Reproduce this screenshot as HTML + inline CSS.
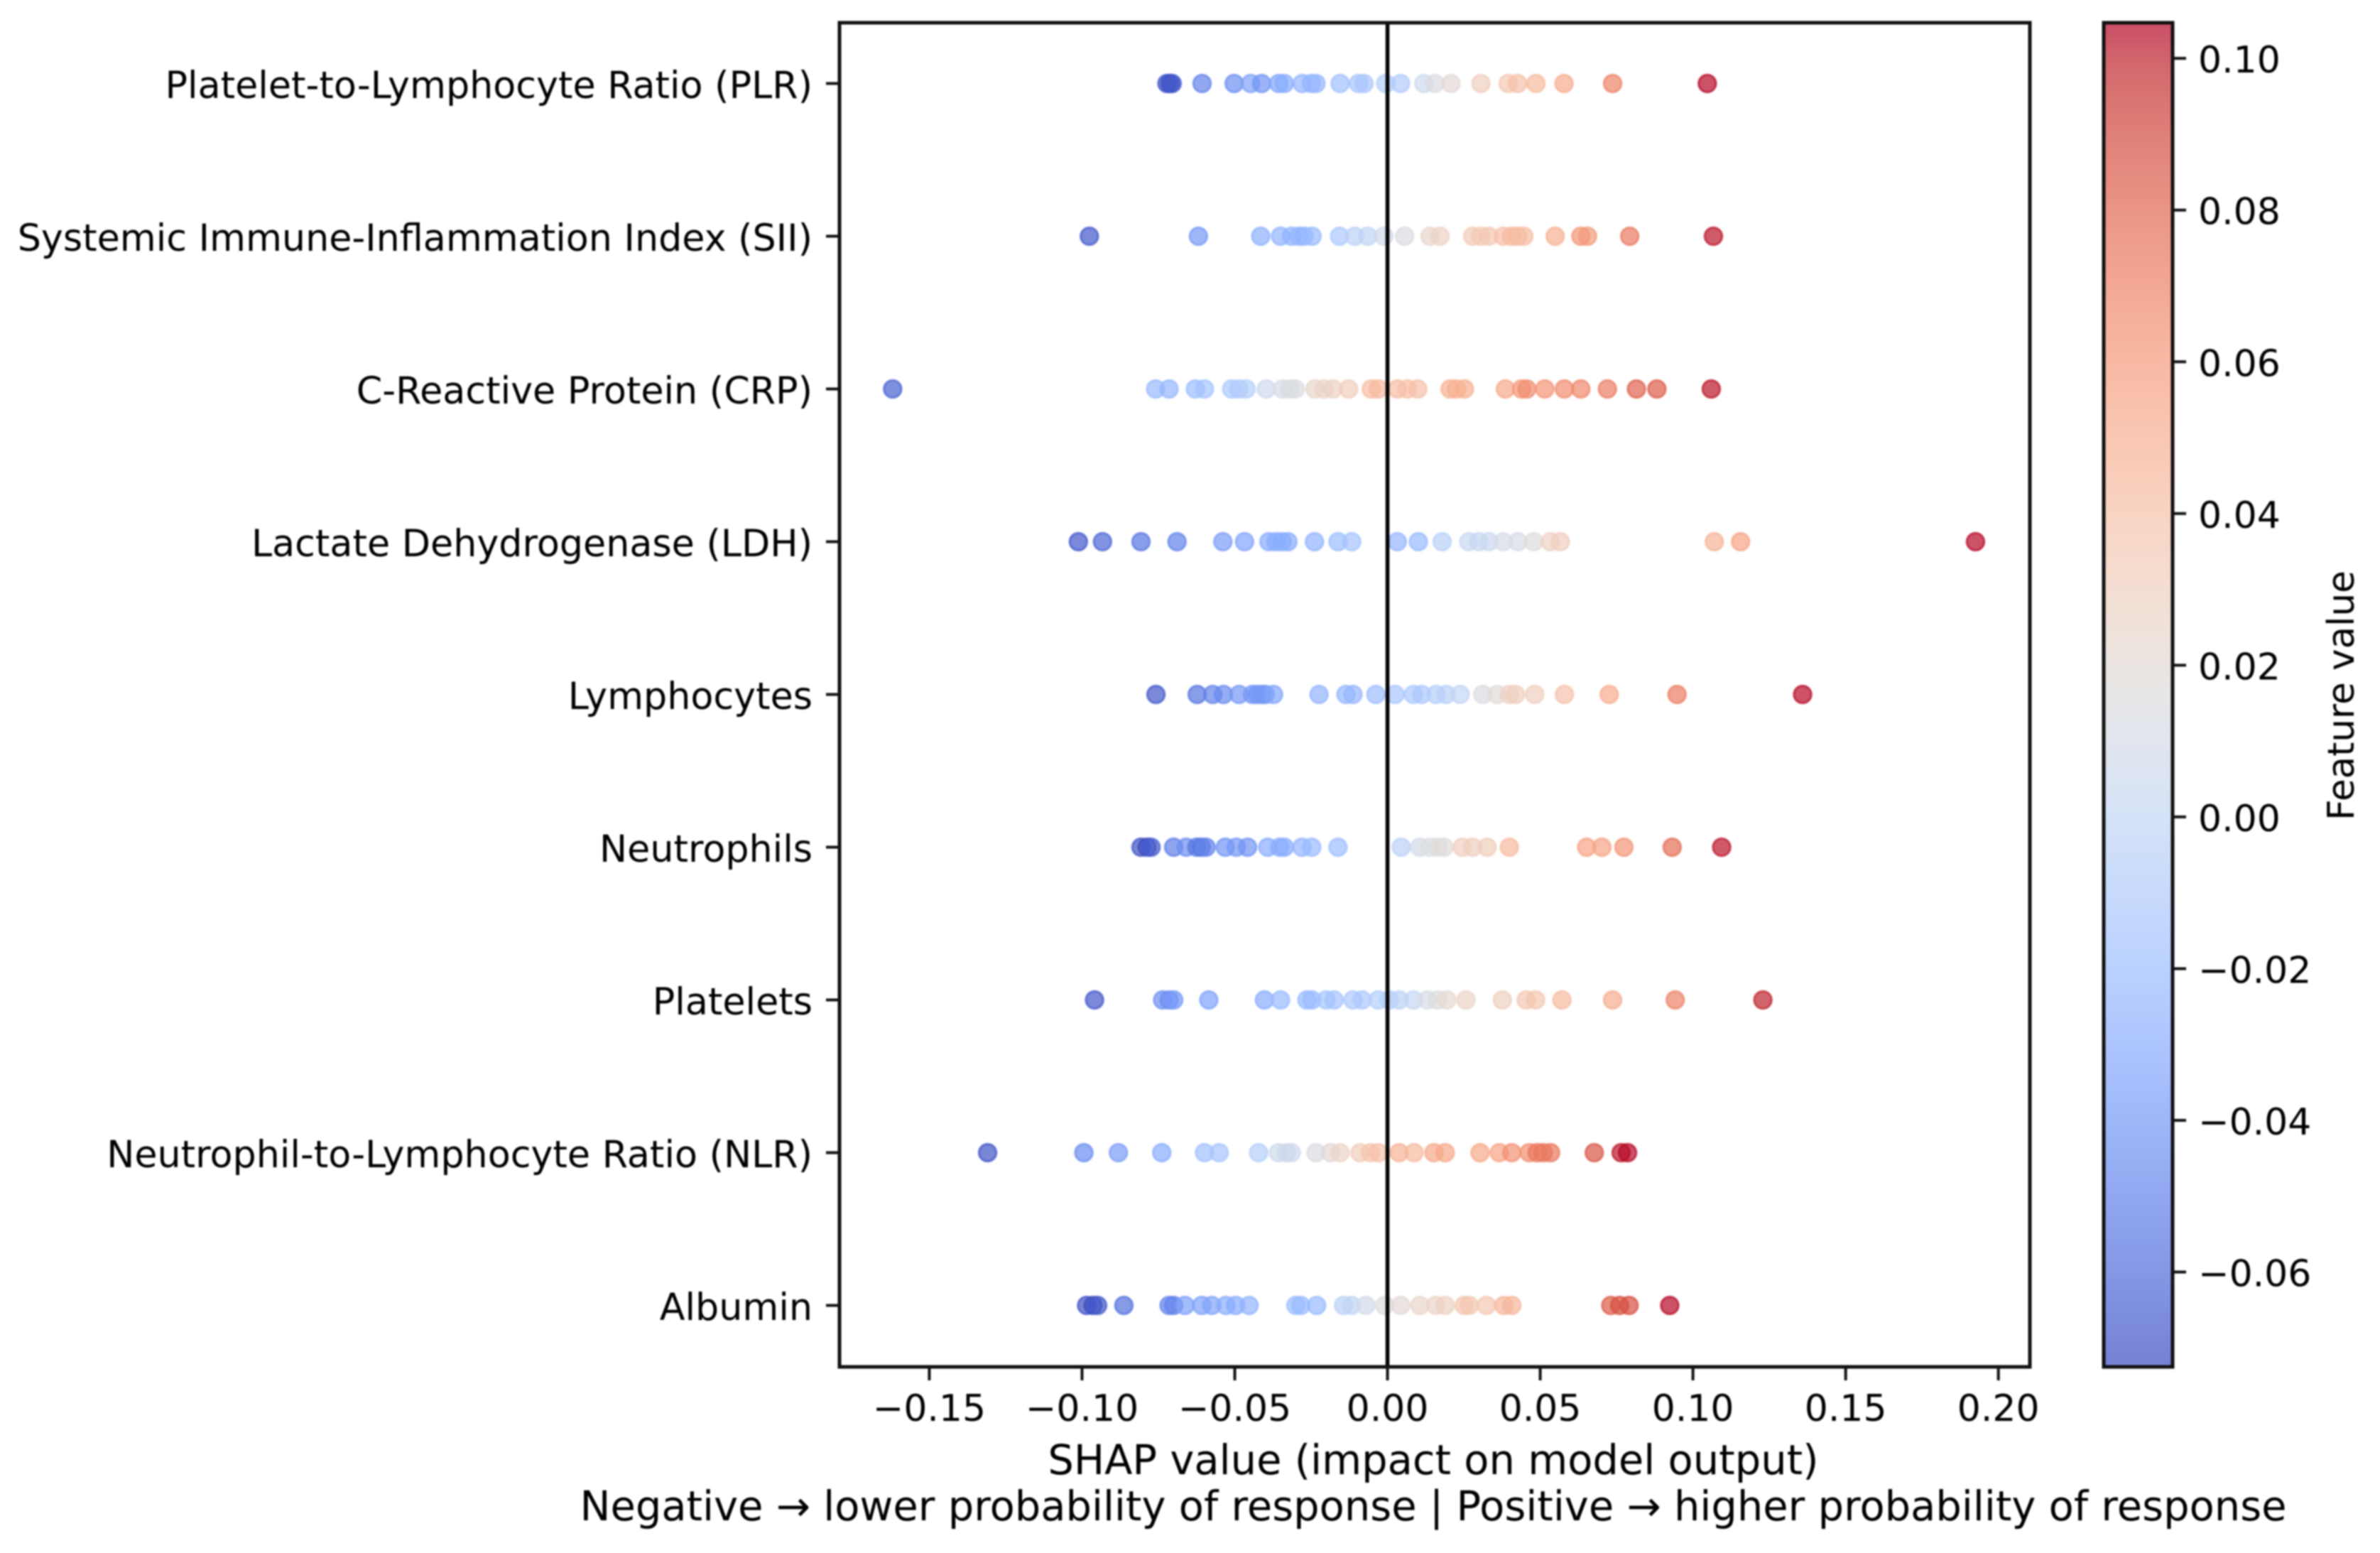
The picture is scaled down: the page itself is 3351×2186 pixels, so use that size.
<!DOCTYPE html>
<html lang="en">
<head>
<meta charset="utf-8">
<title>SHAP summary plot</title>
<style>
html,body{margin:0;padding:0;background:#fff;width:3351px;height:2186px;overflow:hidden}
svg{display:block;filter:blur(1px)}
text{font-family:"DejaVu Sans","Liberation Sans",sans-serif;fill:#000}
</style>
</head>
<body>
<svg id="chart" xmlns="http://www.w3.org/2000/svg" width="3351" height="2186" viewBox="0 0 3351 2186">
  <defs>
    <linearGradient id="cbar-gradient" x1="0" y1="1" x2="0" y2="0"></linearGradient>
  </defs>
  <rect x="0" y="0" width="3351" height="2186" fill="#fff"/>
  <g id="y-ticks"></g>
  <g id="x-ticks"></g>
  <g id="points"></g>
  <g id="zero-line-layer"></g>
  <rect x="1182" y="32" width="1676" height="1892" fill="none" stroke="#111" stroke-width="5"/>
  <text x="2018" y="2075" font-size="57.5" text-anchor="middle">SHAP value (impact on model output)</text>
  <text x="2018" y="2140" font-size="57.5" text-anchor="middle">Negative → lower probability of response | Positive → higher probability of response</text>
  <g id="colorbar"></g>
  <text font-size="51.5" text-anchor="middle" transform="translate(3314 979) rotate(-90)">Feature value</text>
</svg>
<script>
const categories = ["Platelet-to-Lymphocyte Ratio (PLR)","Systemic Immune-Inflammation Index (SII)","C-Reactive Protein (CRP)","Lactate Dehydrogenase (LDH)","Lymphocytes","Neutrophils","Platelets","Neutrophil-to-Lymphocyte Ratio (NLR)","Albumin"];
const xTicks = [-0.15,-0.10,-0.05,0,0.05,0.10,0.15,0.20];
const xTickLabels = ["−0.15","−0.10","−0.05","0.00","0.05","0.10","0.15","0.20"];
const colorTicks = [-0.06,-0.04,-0.02,0,0.02,0.04,0.06,0.08,0.10];
const colorTickLabels = ["−0.06","−0.04","−0.02","0.00","0.02","0.04","0.06","0.08","0.10"];
const xDomain = [-0.1794,0.2103];
const colorDomain = [-0.0725,0.1047];
const coolwarm = [[59,76,192],[68,90,204],[77,104,215],[87,117,225],[98,130,234],[108,142,241],[119,154,247],[130,165,251],[141,176,254],[152,185,255],[163,194,255],[174,201,253],[184,208,249],[194,213,244],[204,217,238],[213,219,230],[221,221,221],[229,216,209],[236,211,197],[241,204,185],[245,196,173],[247,187,160],[247,177,148],[247,166,135],[244,154,123],[241,141,111],[236,127,99],[229,112,88],[222,96,77],[213,80,66],[203,62,56],[192,40,47],[180,4,38]];

const plrShap = [-0.0722,-0.0712,-0.0705,-0.0607,-0.0502,-0.0448,-0.0412,-0.0356,-0.0338,-0.0279,-0.0249,-0.0234,-0.0155,-0.0095,-0.0077,-0.0006,0.0043,0.0119,0.0155,0.0208,0.0306,0.0395,0.0426,0.0486,0.0578,0.0737,0.1047];
const plrFeature = [-0.07,-0.07,-0.068,-0.05,-0.045,-0.035,-0.042,-0.033,-0.03,-0.025,-0.024,-0.024,-0.018,-0.014,-0.014,-0.008,-0.01,0.006,0.014,0.02,0.031,0.036,0.04,0.044,0.052,0.07,0.104];
const siiShap = [-0.0976,-0.0619,-0.0415,-0.035,-0.0314,-0.029,-0.0273,-0.0247,-0.0157,-0.0107,-0.0065,-0.0012,0.0056,0.0139,0.0172,0.0279,0.0306,0.0332,0.0379,0.0406,0.0426,0.0446,0.0549,0.0633,0.0655,0.0793,0.1067];
const siiFeature = [-0.068,-0.04,-0.028,-0.026,-0.025,-0.025,-0.025,-0.022,-0.012,-0.004,-0.002,0.008,0.014,0.024,0.027,0.034,0.034,0.036,0.04,0.044,0.044,0.042,0.05,0.062,0.06,0.073,0.102];
const crpShap = [-0.162,-0.0759,-0.0715,-0.0629,-0.0599,-0.051,-0.0487,-0.0463,-0.0397,-0.0344,-0.032,-0.0302,-0.0237,-0.0208,-0.0178,-0.0127,-0.0053,-0.003,0.0032,0.0065,0.0099,0.0205,0.0226,0.0252,0.0386,0.0439,0.0456,0.0515,0.0579,0.0633,0.072,0.0815,0.0882,0.106];
const crpFeature = [-0.064,-0.022,-0.024,-0.02,-0.016,-0.012,-0.01,-0.008,0.006,0.012,0.012,0.014,0.024,0.026,0.028,0.032,0.042,0.044,0.042,0.04,0.04,0.05,0.05,0.05,0.054,0.06,0.066,0.062,0.066,0.068,0.072,0.082,0.084,0.102];
const ldhShap = [-0.1012,-0.0933,-0.0807,-0.0689,-0.0539,-0.0468,-0.0388,-0.0365,-0.0345,-0.0326,-0.0239,-0.0162,-0.0117,0.0032,0.0101,0.0179,0.0266,0.0299,0.0332,0.0379,0.0427,0.0479,0.0533,0.0566,0.107,0.1156,0.1925];
const ldhFeature = [-0.068,-0.062,-0.056,-0.05,-0.038,-0.034,-0.03,-0.03,-0.03,-0.03,-0.026,-0.02,-0.016,-0.024,-0.022,-0.006,0.002,0.002,0.004,0.01,0.012,0.016,0.028,0.03,0.048,0.056,0.104];
const lymphShap = [-0.0758,-0.0623,-0.0572,-0.0537,-0.0486,-0.0442,-0.0427,-0.0411,-0.04,-0.0373,-0.0224,-0.0136,-0.0113,-0.0038,0.0025,0.0085,0.0112,0.0159,0.0192,0.0238,0.0312,0.0359,0.0399,0.0419,0.0482,0.0579,0.0726,0.0948,0.1359];
const lymphFeature = [-0.068,-0.056,-0.05,-0.046,-0.04,-0.04,-0.042,-0.04,-0.04,-0.034,-0.026,-0.024,-0.024,-0.02,-0.014,-0.012,-0.012,-0.008,-0.006,0,0.014,0.018,0.028,0.03,0.03,0.04,0.052,0.072,0.104];
const neutShap = [-0.0807,-0.0787,-0.0774,-0.07,-0.0659,-0.0624,-0.0609,-0.0594,-0.0531,-0.0495,-0.0458,-0.0392,-0.0353,-0.0338,-0.028,-0.0248,-0.0162,0.0045,0.0105,0.0138,0.0165,0.0185,0.0245,0.0279,0.0326,0.0399,0.0652,0.0702,0.0774,0.0932,0.1094];
const neutFeature = [-0.07,-0.072,-0.066,-0.052,-0.045,-0.055,-0.055,-0.05,-0.042,-0.04,-0.042,-0.03,-0.03,-0.03,-0.025,-0.022,-0.02,-0.004,0.01,0.014,0.016,0.018,0.03,0.03,0.032,0.044,0.056,0.056,0.062,0.078,0.102];
const platShap = [-0.0959,-0.0736,-0.0715,-0.07,-0.0585,-0.0403,-0.035,-0.0264,-0.0248,-0.0201,-0.0175,-0.0113,-0.0083,-0.003,0.0006,0.0038,0.0085,0.0131,0.0163,0.0194,0.0257,0.0376,0.0454,0.0485,0.0571,0.0737,0.0942,0.1229];
const platFeature = [-0.068,-0.045,-0.045,-0.04,-0.035,-0.03,-0.022,-0.022,-0.022,-0.016,-0.016,-0.012,-0.012,-0.008,-0.008,-0.004,0,0.012,0.016,0.022,0.026,0.03,0.036,0.036,0.044,0.052,0.07,0.1];
const nlrShap = [-0.1309,-0.0994,-0.0881,-0.0739,-0.0599,-0.0551,-0.0422,-0.0357,-0.0331,-0.0315,-0.0234,-0.0186,-0.0155,-0.009,-0.0056,-0.003,0.0038,0.0087,0.0152,0.0189,0.0303,0.0366,0.0407,0.0464,0.049,0.051,0.0534,0.0677,0.0765,0.0786];
const nlrFeature = [-0.07,-0.046,-0.038,-0.03,-0.018,-0.015,-0.008,0.006,0.006,0.006,0.014,0.02,0.026,0.032,0.038,0.04,0.048,0.044,0.054,0.054,0.054,0.056,0.064,0.065,0.074,0.074,0.074,0.086,0.102,0.104];
const albShap = [-0.0985,-0.0964,-0.0949,-0.0863,-0.0715,-0.07,-0.0663,-0.0608,-0.0575,-0.0529,-0.0497,-0.0453,-0.03,-0.0284,-0.0232,-0.0144,-0.0118,-0.0071,-0.0009,0.0043,0.0106,0.0158,0.0189,0.0251,0.0267,0.0324,0.0381,0.0407,0.0731,0.076,0.0791,0.0924];
const albFeature = [-0.07,-0.072,-0.068,-0.058,-0.05,-0.05,-0.036,-0.036,-0.034,-0.03,-0.03,-0.026,-0.02,-0.022,-0.022,-0.004,-0.002,0.008,0.016,0.02,0.024,0.026,0.028,0.036,0.036,0.036,0.046,0.046,0.084,0.088,0.088,0.104];

const shapRows = [plrShap,siiShap,crpShap,ldhShap,lymphShap,neutShap,platShap,nlrShap,albShap];
const featureRows = [plrFeature,siiFeature,crpFeature,ldhFeature,lymphFeature,neutFeature,platFeature,nlrFeature,albFeature];

const SVG_NS = "http://www.w3.org/2000/svg";
const plot = {left:1182,right:2858,top:32,bottom:1924,firstRow:117.5,rowStep:215};
const bar = {left:2962,right:3059,top:32,bottom:1924};

function xScale(v){return plot.left+(v-xDomain[0])/(xDomain[1]-xDomain[0])*(plot.right-plot.left);}
function yScale(i){return plot.firstRow+i*plot.rowStep;}
function colorY(v){return bar.bottom-(v-colorDomain[0])/(colorDomain[1]-colorDomain[0])*(bar.bottom-bar.top);}
function colormap(t){
  t=Math.max(0,Math.min(1,t));
  const p=t*(coolwarm.length-1),i=Math.min(Math.floor(p),coolwarm.length-2),f=p-i;
  const c=[0,1,2].map(k=>Math.round(coolwarm[i][k]+(coolwarm[i+1][k]-coolwarm[i][k])*f));
  return "rgb("+c.join(",")+")";
}
function colorOf(v){return colormap((v-colorDomain[0])/(colorDomain[1]-colorDomain[0]));}
function make(tag,attrs,parent){
  const el=document.createElementNS(SVG_NS,tag);
  for(const k in attrs){el.setAttribute(k,attrs[k]);}
  parent.appendChild(el);
  return el;
}

const yG=document.getElementById("y-ticks");
categories.forEach((name,i)=>{
  const y=yScale(i);
  const tick=make("line",{x1:plot.left-19,x2:plot.left,y1:y,y2:y,stroke:"#111","stroke-width":4},yG);
  
  
  const label=make("text",{x:1144,y:y+20.5,"font-size":52.3,"text-anchor":"end"},yG);
  label.textContent=name;
  
  
});

const xG=document.getElementById("x-ticks");
xTicks.forEach((v,i)=>{
  const x=xScale(v);
  const tick=make("line",{x1:x,x2:x,y1:plot.bottom,y2:plot.bottom+19,stroke:"#111","stroke-width":4},xG);
  
  
  const label=make("text",{x:x,y:2000,"font-size":52,"text-anchor":"middle"},xG);
  label.textContent=xTickLabels[i];
  
  
});

const pG=document.getElementById("points");
shapRows.forEach((row,i)=>{
  row.forEach((v,j)=>{
    const col=colorOf(featureRows[i][j]);
    const dot=make("circle",{cx:xScale(v),cy:yScale(i),r:12.3,fill:col,stroke:col,"stroke-width":3,"fill-opacity":0.7,"stroke-opacity":0.7},pG);
    
    
  });
});

const zeroG=document.getElementById("zero-line-layer");
const zeroLine=make("line",{x1:xScale(0),x2:xScale(0),y1:plot.top,y2:plot.bottom,stroke:"#000","stroke-width":5.5},zeroG);



const grad=document.getElementById("cbar-gradient");
coolwarm.forEach((c,i)=>{
  make("stop",{offset:i/(coolwarm.length-1),"stop-color":"rgb("+c.join(",")+")"},grad);
});
const cG=document.getElementById("colorbar");
const barFill=make("rect",{x:bar.left,y:bar.top,width:bar.right-bar.left,height:bar.bottom-bar.top,fill:"url(#cbar-gradient)","fill-opacity":0.7},cG);


const barFrame=make("rect",{x:bar.left,y:bar.top,width:bar.right-bar.left,height:bar.bottom-bar.top,fill:"none",stroke:"#111","stroke-width":5},cG);


colorTicks.forEach((v,i)=>{
  const y=colorY(v);
  const tick=make("line",{x1:bar.right,x2:bar.right+19,y1:y,y2:y,stroke:"#111","stroke-width":4},cG);
  
  
  const label=make("text",{x:3095,y:y+20,"font-size":52},cG);
  label.textContent=colorTickLabels[i];
  
  
});
</script>
</body>
</html>
